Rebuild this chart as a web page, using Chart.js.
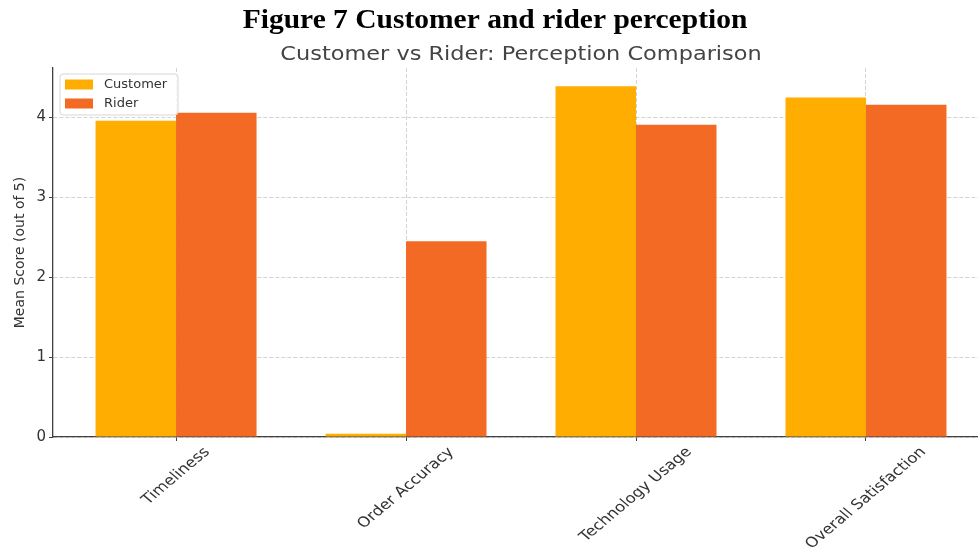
<!DOCTYPE html>
<html>
<head>
<meta charset="utf-8">
<title>Customer and rider perception</title>
<script src="https://cdn.jsdelivr.net/npm/chart.js@4.4.1/dist/chart.umd.min.js"></script>
<style>
  html, body { margin: 0; padding: 0; background: #fff; overflow: hidden; }
  #wrap { position: relative; width: 978px; height: 550px; }
</style>
</head>
<body>
<div id="wrap"><canvas id="perceptionChart" width="978" height="550"></canvas></div>
<script>
// Mean scores per aspect (out of 5)
var categories = ['Timeliness', 'Order Accuracy', 'Technology Usage', 'Overall Satisfaction'];
var customerScores = [3.96, 0.04, 4.39, 4.25];
var riderScores = [4.06, 2.45, 3.91, 4.16];
var yTicks = [0, 1, 2, 3, 4];

var captionText = 'Figure 7 Customer and rider perception';
var titleText = 'Customer vs Rider: Perception Comparison';

// the figure is a bit wider than it is tall, text gets stretched with it
var stretchX = 1.19;

function toPoints(values)
{
    return values.map(function(v, i) { return {x: i, y: v}; });
}

function wideText(ctx, text, x, y, sx)
{
    ctx.save();
    ctx.translate(x, y);
    ctx.scale(sx, 1);
    ctx.fillText(text, 0, 0);
    ctx.restore();
}

// Caption, axes title, slanted category labels and the boxed legend
var figureText = {
    id: 'figureText',
    afterDraw: function(chart) {
        var ctx = chart.ctx;
        var xs = chart.scales.x;
        var area = chart.chartArea;
        ctx.save();

        ctx.fillStyle = '#000';
        ctx.font = 'bold 27px "Liberation Serif"';
        ctx.textAlign = 'center';
        ctx.textBaseline = 'alphabetic';
        wideText(ctx, captionText, 495, 28, 1.093);

        ctx.fillStyle = '#444';
        ctx.font = '19px "DejaVu Sans"';
        wideText(ctx, titleText, xs.getPixelForValue(1.5), 60, 1.18);

        ctx.font = '14px "DejaVu Sans"';
        ctx.fillStyle = '#333';
        categories.forEach(function(label, i) {
            var w = ctx.measureText(label).width;
            var half = (w + 14) * Math.SQRT1_2 / 2;
            ctx.save();
            ctx.translate(xs.getPixelForValue(i), area.bottom + 8 + half);
            ctx.scale(stretchX, 1);
            ctx.rotate(-Math.PI / 4);
            ctx.textAlign = 'center';
            ctx.textBaseline = 'middle';
            ctx.fillText(label, 0, 0);
            ctx.restore();
        });

        // legend box
        var bx = area.left + 7, by = area.top + 6, bw = 118, bh = 41;
        ctx.beginPath();
        ctx.roundRect(bx, by, bw, bh, 3);
        ctx.fillStyle = 'rgba(255,255,255,0.8)';
        ctx.fill();
        ctx.strokeStyle = '#d6d6d6';
        ctx.lineWidth = 1;
        ctx.stroke();
        ctx.font = '13px "DejaVu Sans"';
        ctx.textAlign = 'left';
        ctx.textBaseline = 'middle';
        chart.data.datasets.forEach(function(ds, i) {
            var cy = by + 10.5 + i * 19;
            ctx.fillStyle = ds.backgroundColor;
            ctx.fillRect(bx + 5, cy - 5, 28, 10);
            ctx.fillStyle = '#333';
            ctx.fillText(ds.label, bx + 44, cy);
        });
        ctx.restore();
    }
};

var tickFont = {family: 'DejaVu Sans', size: 15};

var chart = new Chart(document.getElementById('perceptionChart'), {
    type: 'bar',
    data: {
        datasets: [
            {label: 'Customer', data: toPoints(customerScores), backgroundColor: '#FFAD00'},
            {label: 'Rider', data: toPoints(riderScores), backgroundColor: '#F26A23'}
        ]
    },
    options: {
        responsive: false,
        animation: false,
        devicePixelRatio: 1,
        categoryPercentage: 0.7,
        barPercentage: 1.0,
        layout: {padding: {top: 68, right: 0, bottom: 0, left: 0}},
        plugins: {
            legend: {display: false},
            title: {display: false},
            tooltip: {enabled: false}
        },
        scales: {
            x: {
                type: 'linear',
                min: -0.535,
                max: 3.487,
                offset: false,
                afterBuildTicks: function(s) {
                    s.ticks = categories.map(function(c, i) { return {value: i}; });
                },
                afterFit: function(s) { s.height = 113; },
                ticks: {display: false},
                grid: {
                    offset: false,
                    color: 'rgba(176,176,176,0.7)',
                    lineWidth: 0.8,
                    tickColor: '#404040',
                    tickLength: 4,
                    tickWidth: 1
                },
                border: {display: true, color: '#404040', width: 1.3, dash: [4, 2]}
            },
            y: {
                min: 0,
                max: 4.62,
                afterBuildTicks: function(s) {
                    s.ticks = yTicks.map(function(v) { return {value: v}; });
                },
                afterFit: function(s) { s.width = 53; },
                ticks: {color: '#333', font: tickFont, padding: 3},
                grid: {
                    color: 'rgba(176,176,176,0.7)',
                    lineWidth: 0.8,
                    tickColor: '#404040',
                    tickLength: 4,
                    tickWidth: 1
                },
                border: {display: true, color: '#404040', width: 1.3, dash: [4, 2]},
                title: {
                    display: true,
                    text: 'Mean Score (out of 5)',
                    color: '#333',
                    font: {family: 'DejaVu Sans', size: 14},
                    padding: {top: 12, bottom: 0}
                }
            }
        }
    },
    plugins: [figureText]
});
</script>
</body>
</html>
